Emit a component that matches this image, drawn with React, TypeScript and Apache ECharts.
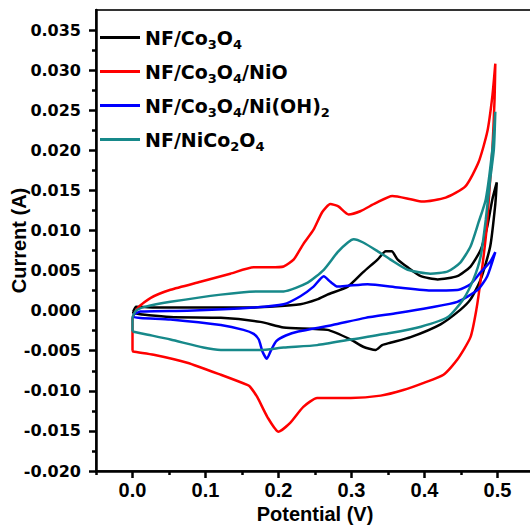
import React, { useEffect, useRef } from "react";
import * as echarts from "echarts";

// Potential (V), Current (A) pairs traced along each CV loop
const co3o4Loop: number[][] = [
  [0.001, -0.0001], [0.005, 0.0005], [0.029, 0.0004], [0.121, 0.0004], [0.166, 0.0004],
  [0.230, 0.0008], [0.253, 0.0014], [0.267, 0.0020], [0.295, 0.0030], [0.316, 0.0048],
  [0.336, 0.0064], [0.347, 0.0074], [0.355, 0.0074], [0.363, 0.0064], [0.377, 0.0054],
  [0.395, 0.0043], [0.418, 0.0039], [0.445, 0.0043], [0.463, 0.0055], [0.477, 0.0076],
  [0.486, 0.0105], [0.493, 0.0139], [0.499, 0.0160],
  [0.497, 0.0133], [0.490, 0.0080], [0.477, 0.0039], [0.463, 0.0014], [0.449, 0.0001],
  [0.422, -0.0017], [0.381, -0.0033], [0.353, -0.0040], [0.342, -0.0043], [0.333, -0.0049],
  [0.316, -0.0045], [0.299, -0.0036], [0.267, -0.0024], [0.207, -0.0021], [0.175, -0.0014],
  [0.121, -0.0009], [0.052, -0.0008], [0.001, -0.0003], [0.001, -0.0001],
];

const co3o4NioLoop: number[][] = [
  [0.000, -0.0050], [0.000, -0.0030], [0.000, -0.0010], [0.008, 0.0004], [0.025, 0.0016],
  [0.052, 0.0026], [0.093, 0.0036], [0.134, 0.0046], [0.166, 0.0054], [0.189, 0.0054],
  [0.207, 0.0055], [0.221, 0.0064], [0.234, 0.0083], [0.248, 0.0101], [0.260, 0.0123],
  [0.271, 0.0133], [0.282, 0.0130], [0.296, 0.0120], [0.312, 0.0124], [0.333, 0.0134],
  [0.356, 0.0143], [0.381, 0.0139], [0.397, 0.0136], [0.429, 0.0141], [0.456, 0.0155],
  [0.474, 0.0185], [0.486, 0.0223], [0.493, 0.0268], [0.497, 0.0308],
  [0.496, 0.0264], [0.493, 0.0201], [0.490, 0.0164], [0.485, 0.0101], [0.477, 0.0039],
  [0.471, 0.0001], [0.463, -0.0033], [0.445, -0.0061], [0.426, -0.0080], [0.399, -0.0090],
  [0.371, -0.0099], [0.340, -0.0106], [0.299, -0.0109], [0.253, -0.0109], [0.234, -0.0120],
  [0.216, -0.0140], [0.200, -0.0151], [0.185, -0.0133], [0.171, -0.0108], [0.162, -0.0096],
  [0.158, -0.0093], [0.121, -0.0080], [0.075, -0.0065], [0.029, -0.0055], [0.001, -0.0051],
  [0.000, -0.0050],
];

const co3o4NiOHLoop: number[][] = [
  [0.001, -0.0005], [0.011, -0.0001], [0.075, 0.0000], [0.166, 0.0004], [0.207, 0.0008],
  [0.230, 0.0018], [0.248, 0.0030], [0.262, 0.0043], [0.271, 0.0036], [0.281, 0.0030],
  [0.295, 0.0031], [0.322, 0.0033], [0.364, 0.0029], [0.411, 0.0025], [0.447, 0.0026],
  [0.463, 0.0033], [0.477, 0.0048], [0.490, 0.0061], [0.497, 0.0073],
  [0.486, 0.0043], [0.473, 0.0026], [0.445, 0.0011], [0.408, 0.0004], [0.363, -0.0003],
  [0.319, -0.0009], [0.274, -0.0018], [0.227, -0.0026], [0.210, -0.0031], [0.197, -0.0038],
  [0.190, -0.0049], [0.184, -0.0060], [0.178, -0.0051], [0.173, -0.0036], [0.166, -0.0029],
  [0.152, -0.0024], [0.121, -0.0018], [0.052, -0.0011], [0.001, -0.0008], [0.001, -0.0005],
];

const nico2o4Loop: number[][] = [
  [0.000, -0.0026], [0.000, -0.0009], [0.005, 0.0000], [0.018, 0.0005], [0.052, 0.0011],
  [0.121, 0.0020], [0.175, 0.0024], [0.207, 0.0024], [0.240, 0.0035], [0.262, 0.0051],
  [0.281, 0.0073], [0.295, 0.0085], [0.303, 0.0089], [0.316, 0.0085], [0.336, 0.0074],
  [0.353, 0.0064], [0.377, 0.0051], [0.408, 0.0046], [0.432, 0.0049], [0.449, 0.0060],
  [0.463, 0.0080], [0.474, 0.0110], [0.484, 0.0139], [0.493, 0.0201], [0.497, 0.0248],
  [0.495, 0.0201], [0.490, 0.0164], [0.484, 0.0114], [0.477, 0.0068], [0.467, 0.0039],
  [0.453, 0.0014], [0.432, -0.0008], [0.395, -0.0020], [0.353, -0.0028], [0.299, -0.0036],
  [0.253, -0.0043], [0.207, -0.0046], [0.175, -0.0049], [0.121, -0.0049], [0.097, -0.0046],
  [0.052, -0.0036], [0.021, -0.0030], [0.000, -0.0026],
];

const seriesNames = ["NF/Co3O4", "NF/Co3O4/NiO", "NF/Co3O4/Ni(OH)2", "NF/NiCo2O4"];
const seriesColors = ["#000000", "#ff0000", "#0000ff", "#17898a"];
const legendRich: Record<string, string> = {
  "NF/Co3O4": "{m|NF/Co}{s|3}{m|O}{s|4}",
  "NF/Co3O4/NiO": "{m|NF/Co}{s|3}{m|O}{s|4}{m|/NiO}",
  "NF/Co3O4/Ni(OH)2": "{m|NF/Co}{s|3}{m|O}{s|4}{m|/Ni(OH)}{s|2}",
  "NF/NiCo2O4": "{m|NF/NiCo}{s|2}{m|O}{s|4}",
};

const xMajorTicks = [0.0, 0.1, 0.2, 0.3, 0.4, 0.5];
const xMinorTicks = [-0.05, 0.05, 0.15, 0.25, 0.35, 0.45];
const yMajorTicks = [-0.02, -0.015, -0.01, -0.005, 0, 0.005, 0.01, 0.015, 0.02, 0.025, 0.03, 0.035];
const yMinorTicks = [-0.0175, -0.0125, -0.0075, -0.0025, 0.0025, 0.0075, 0.0125, 0.0175, 0.0225, 0.0275, 0.0325];

const X_MIN = -0.05;
const X_MAX = 0.55;
const Y_MIN = -0.02;
const Y_MAX = 0.0375;

export default function App() {
  const ref = useRef<HTMLDivElement>(null);
  useEffect(() => {
    if (!ref.current) return;
    const chart = echarts.init(ref.current, undefined, { renderer: "svg" });
    const loops = [co3o4Loop, co3o4NioLoop, co3o4NiOHLoop, nico2o4Loop];
    const axisFont = "'Liberation Sans', Arial, sans-serif";
    const dejavu = "'DejaVu Sans', sans-serif";
    chart.setOption({
      animation: false,
      backgroundColor: "#ffffff",
      grid: {
        left: 96,
        right: -4,
        top: 10,
        bottom: 54,
        containLabel: false,
        outerBoundsMode: "none",
        show: true,
        borderColor: "#333333",
        borderWidth: 2,
        backgroundColor: "transparent",
      },
      legend: {
        orient: "vertical",
        left: 100,
        top: 28,
        padding: 0,
        itemWidth: 40,
        itemHeight: 3,
        itemGap: 11,
        icon: "rect",
        data: seriesNames,
        formatter: (name: string) => legendRich[name],
        textStyle: {
          color: "#000",
          fontFamily: dejavu,
          fontWeight: "bold",
          fontSize: 19,
          rich: {
            m: { fontFamily: dejavu, fontWeight: "bold", fontSize: 19, color: "#000" },
            s: { fontFamily: dejavu, fontWeight: "bold", fontSize: 13, color: "#000", padding: [14, 0, 0, 0] },
          },
        },
      },
      xAxis: [
        {
          type: "value",
          min: X_MIN,
          max: X_MAX,
          position: "bottom",
          name: "Potential (V)",
          nameLocation: "middle",
          nameGap: 33,
          nameMoveOverlap: false,
          nameTextStyle: { fontFamily: axisFont, fontWeight: "bold", fontSize: 20, color: "#000" },
          axisLine: { show: true, onZero: false, lineStyle: { color: "#000", width: 2.5 } },
          axisTick: { show: true, inside: false, length: 7, customValues: xMajorTicks, lineStyle: { color: "#000", width: 2.5 } },
          axisLabel: {
            customValues: xMajorTicks,
            formatter: (v: number) => v.toFixed(1),
            fontFamily: axisFont,
            fontWeight: "bold",
            fontSize: 20,
            color: "#000",
            margin: 9,
          },
          splitLine: { show: false },
        },
        {
          type: "value",
          min: X_MIN,
          max: X_MAX,
          position: "bottom",
          axisLine: { show: false, onZero: false },
          axisTick: { show: true, inside: false, length: 4, customValues: xMinorTicks, lineStyle: { color: "#000", width: 2.5 } },
          axisLabel: { show: false },
          splitLine: { show: false },
        },
      ],
      yAxis: [
        {
          type: "value",
          min: Y_MIN,
          max: Y_MAX,
          position: "left",
          name: "Current (A)",
          nameLocation: "middle",
          nameGap: 67,
          nameMoveOverlap: false,
          nameTextStyle: { fontFamily: axisFont, fontWeight: "bold", fontSize: 20, color: "#000" },
          axisLine: { show: true, onZero: false, lineStyle: { color: "#000", width: 2.5 } },
          axisTick: { show: true, inside: false, length: 7, customValues: yMajorTicks, lineStyle: { color: "#000", width: 2.5 } },
          axisLabel: {
            customValues: yMajorTicks,
            formatter: (v: number) => v.toFixed(3),
            fontFamily: dejavu,
            fontWeight: "bold",
            fontSize: 16,
            color: "#000",
            margin: 15,
          },
          splitLine: { show: false },
        },
        {
          type: "value",
          min: Y_MIN,
          max: Y_MAX,
          position: "left",
          axisLine: { show: false, onZero: false },
          axisTick: { show: true, inside: false, length: 4, customValues: yMinorTicks, lineStyle: { color: "#000", width: 2.5 } },
          axisLabel: { show: false },
          splitLine: { show: false },
        },
      ],
      series: seriesNames.map((name, i) => ({
        name,
        type: "line",
        xAxisIndex: 0,
        yAxisIndex: 0,
        data: loops[i],
        showSymbol: false,
        symbol: "none",
        smooth: 0.2,
        lineStyle: { color: seriesColors[i], width: 2.5 },
        itemStyle: { color: seriesColors[i] },
      })),
    });
    return () => chart.dispose();
  }, []);
  return (
    <div
      ref={ref}
      style={{ position: "fixed", left: 0, top: 0, width: 530, height: 525, background: "#fff" }}
    />
  );
}
